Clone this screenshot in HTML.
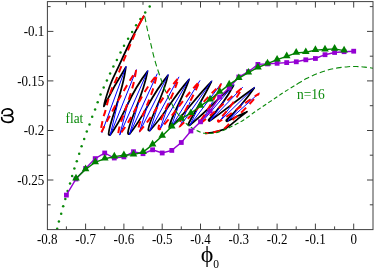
<!DOCTYPE html><html><head><meta charset="utf-8"><style>html,body{margin:0;padding:0;background:#fff}svg{display:block;will-change:transform}text{font-family:"Liberation Serif",serif}</style></head><body>
<svg width="374" height="269" viewBox="0 0 374 269">
<rect width="374" height="269" fill="#fff"/>
<circle cx="57.2" cy="228.8" r="1.25" fill="#0a8a0a"/>
<circle cx="58.9" cy="221.4" r="1.25" fill="#0a8a0a"/>
<circle cx="61.2" cy="213.7" r="1.25" fill="#0a8a0a"/>
<circle cx="63.2" cy="206.2" r="1.25" fill="#0a8a0a"/>
<circle cx="65.3" cy="198.9" r="1.25" fill="#0a8a0a"/>
<circle cx="67.6" cy="190.9" r="1.25" fill="#0a8a0a"/>
<circle cx="70.0" cy="183.5" r="1.25" fill="#0a8a0a"/>
<circle cx="72.1" cy="176.0" r="1.25" fill="#0a8a0a"/>
<circle cx="74.4" cy="168.5" r="1.25" fill="#0a8a0a"/>
<circle cx="76.8" cy="161.3" r="1.25" fill="#0a8a0a"/>
<circle cx="79.2" cy="153.7" r="1.25" fill="#0a8a0a"/>
<circle cx="81.6" cy="146.3" r="1.25" fill="#0a8a0a"/>
<circle cx="84.2" cy="139.0" r="1.25" fill="#0a8a0a"/>
<circle cx="86.8" cy="131.6" r="1.25" fill="#0a8a0a"/>
<circle cx="89.5" cy="124.4" r="1.25" fill="#0a8a0a"/>
<circle cx="92.2" cy="116.8" r="1.25" fill="#0a8a0a"/>
<circle cx="95.1" cy="109.6" r="1.25" fill="#0a8a0a"/>
<circle cx="97.7" cy="102.2" r="1.25" fill="#0a8a0a"/>
<circle cx="100.5" cy="94.5" r="1.25" fill="#0a8a0a"/>
<circle cx="103.7" cy="87.6" r="1.25" fill="#0a8a0a"/>
<circle cx="106.9" cy="80.5" r="1.25" fill="#0a8a0a"/>
<circle cx="110.1" cy="73.6" r="1.25" fill="#0a8a0a"/>
<circle cx="113.4" cy="66.5" r="1.25" fill="#0a8a0a"/>
<circle cx="116.9" cy="59.9" r="1.25" fill="#0a8a0a"/>
<circle cx="120.5" cy="52.6" r="1.25" fill="#0a8a0a"/>
<circle cx="124.0" cy="45.8" r="1.25" fill="#0a8a0a"/>
<circle cx="128.1" cy="38.8" r="1.25" fill="#0a8a0a"/>
<circle cx="132.1" cy="32.1" r="1.25" fill="#0a8a0a"/>
<circle cx="136.1" cy="25.3" r="1.25" fill="#0a8a0a"/>
<circle cx="140.4" cy="18.9" r="1.25" fill="#0a8a0a"/>
<circle cx="145.2" cy="12.5" r="1.25" fill="#0a8a0a"/>
<circle cx="149.7" cy="6.4" r="1.25" fill="#0a8a0a"/>
<path d="M144.00,15.60 C141.83,19.67 135.18,31.62 131.00,40.00 C126.82,48.38 122.23,58.73 118.90,65.90 C115.57,73.07 113.27,77.32 111.00,83.00 C108.73,88.68 106.48,96.10 105.30,100.00 C104.12,103.90 104.13,105.33 103.90,106.40 C110.44,93.10 117.91,79.74 125.80,67.20 C122.70,94.60 109.08,121.56 108.60,133.96 C108.56,134.94 109.81,135.38 110.40,134.60 C127.08,112.30 127.01,97.24 147.50,71.40 C143.17,96.95 128.51,121.50 127.90,133.15 C127.85,134.11 129.06,134.58 129.67,133.84 C145.93,114.15 148.77,98.40 167.90,75.40 C163.13,97.90 149.23,119.16 148.30,129.51 C148.22,130.45 149.37,130.97 150.02,130.29 C165.45,114.25 171.68,98.60 189.00,79.60 C182.92,97.93 171.69,115.32 169.29,126.48 C169.10,127.37 170.18,127.98 170.84,127.34 C185.47,113.35 195.21,97.98 211.40,81.60 C204.07,97.41 193.83,112.41 188.32,124.18 C187.94,125.00 188.93,125.78 189.64,125.21 C204.59,113.21 216.85,99.35 233.50,85.50 C226.71,98.12 217.94,110.20 208.83,119.66 C208.17,120.35 209.06,121.40 209.85,120.86 C224.61,110.77 237.48,99.34 254.20,88.00 C246.26,99.49 236.82,110.35 226.49,119.99 C225.86,120.58 226.54,121.59 227.32,121.23 C233.75,118.26 239.66,114.88 247.00,111.70 C245.73,112.68 241.92,115.57 239.40,117.60 C236.88,119.63 234.13,122.12 231.90,123.90 C229.67,125.68 227.98,127.17 226.00,128.30 C224.02,129.43 222.33,129.98 220.00,130.70 C217.67,131.42 214.50,132.18 212.00,132.60 C209.50,133.02 206.17,133.10 205.00,133.20" fill="none" stroke="#000" stroke-width="1.75" stroke-linejoin="round"/>
<path d="M101.80,132.90 L126.30,66.00 M118.38,100.45 L110.10,135.50 L136.50,69.50 M128.23,102.07 L119.70,135.10 L148.00,70.20 M138.69,102.18 L129.40,134.70 L157.30,73.60 M148.33,102.65 L139.40,132.10 L168.40,74.20 M159.00,102.38 L149.80,131.10 L179.00,76.80 M169.22,102.43 L159.84,129.61 L189.53,78.43 M179.95,101.80 L170.78,127.92 L200.06,80.36 M190.19,101.80 L180.02,126.63 L211.99,80.49 M201.49,100.91 L189.76,125.54 L221.42,83.32 M212.69,101.61 L200.70,123.54 L234.15,84.45 M224.32,100.96 L210.14,120.96 L242.78,87.08 M233.40,102.68 L219.36,121.61 L254.90,87.00 M243.75,102.10 L227.78,121.17 L259.41,92.81" fill="none" stroke="#00f" stroke-width="1.0" stroke-linejoin="miter" stroke-miterlimit="3"/>
<path d="M144.10,15.80 C143.02,17.77 139.68,23.30 137.60,27.60 C135.52,31.90 134.33,35.10 131.60,41.60 C128.87,48.10 123.82,60.18 121.20,66.60 C118.58,73.02 117.42,76.53 115.90,80.10 C114.38,83.67 113.22,85.23 112.10,88.00 C110.98,90.77 110.00,94.12 109.20,96.70 C108.40,99.28 107.87,101.40 107.30,103.50 C106.73,105.60 106.22,107.73 105.80,109.30 C105.38,110.87 105.22,111.57 104.80,112.90 C104.38,114.23 103.80,115.35 103.30,117.30 C102.80,119.25 102.18,122.65 101.80,124.60 C101.42,126.55 101.08,127.70 101.00,129.00 C100.92,130.30 101.25,131.83 101.30,132.40 C111.67,111.47 123.50,90.43 136.00,70.70 C132.49,96.62 118.83,121.90 118.30,133.66 C118.26,134.53 119.37,134.94 119.91,134.26 C136.08,113.68 137.28,98.71 156.80,74.80 C152.46,97.96 138.74,120.06 138.00,130.64 C137.94,131.49 138.99,131.94 139.56,131.31 C155.47,113.93 160.22,98.43 178.50,78.00 C172.78,98.30 160.04,117.42 158.44,128.20 C158.32,129.03 159.32,129.54 159.91,128.95 C174.87,114.21 182.83,98.88 199.50,81.50 C192.85,98.19 182.41,114.02 178.64,125.34 C178.37,126.12 179.32,126.74 179.93,126.20 C194.23,113.53 204.96,99.15 220.80,84.40 C214.89,98.42 206.72,111.95 199.40,122.33 C198.91,123.02 199.77,123.86 200.45,123.35 C214.57,112.72 226.33,100.35 242.10,88.10 C235.68,99.97 227.42,111.38 218.11,120.51 C217.53,121.08 218.25,122.02 218.96,121.60 C232.46,113.56 243.74,103.36 258.70,93.80 C257.25,95.42 253.22,100.07 250.00,103.50 C246.78,106.93 242.07,111.92 239.40,114.40 C236.73,116.88 235.82,116.72 234.00,118.40 C232.18,120.08 230.15,122.80 228.50,124.50 C226.85,126.20 225.63,127.53 224.10,128.60 C222.57,129.67 221.57,130.20 219.30,130.90 C217.03,131.60 212.88,132.38 210.50,132.80 C208.12,133.22 205.92,133.30 205.00,133.40" fill="none" stroke="#f00" stroke-width="2.0" stroke-dasharray="15 5 6.7 5 6.7 5 6.7 5 6.7 5 6.7 5 6.7 5 6.7 5 6.7 5 6.7 5 6.7 5 6.7 5 6.7 5 6.7 5 6.7 5 6.7 5 6.7 5 6.7 5 6.7 5 6.7 5 6.7 5 6.7 5 6.7 5 6.7 5 6.7 5 6.7 5 6.7 5 6.7 5 6.7 5 6.7 5 6.7 5 6.7 5 6.7 5 6.7 5 6.7 5 6.7 5 6.7 5 6.7 5 6.7 5 6.7 5 6.7 5 6.7 5 6.7 5 6.7 5 6.7 5 6.7 5 6.7 5 6.7 5 6.7 5 6.7 5 6.7 5 6.7 5 6.7 5 6.7 5 6.7 5 6.7 5 6.7 5 6.7 5 6.7 5 6.7 5 6.7 5 6.7 5 6.7 5 6.7 5 6.7 5 6.7 5 6.7 5 6.7 5 6.7 5 6.7 5 6.7 5 6.7 5 6.7 5 6.7 5 6.7 5 6.7 5 6.7 5 6.7 5 6.7 5 6.7 5 6.7 5 6.7 5 6.7 5 6.7 5 6.7 5 6.7 5 6.7 5 6.7 5 6.7 5 6.7 5 6.7 5 6.7 5 6.7 5 6.7 5 6.7 5 6.7 5 6.7 5 6.7 5 6.7 5 6.7 5 6.7 5 6.7 5 6.7 5 6.7 5 6.7 5 6.7 5 6.7 5 6.7 5 6.7 5 6.7 5 6.7 5 6.7 5 6.7 5 6.7 5 6.7 5 6.7 5 6.7 5 6.7 5 6.7 5 6.7 5 6.7 5 6.7 5 6.7 5 6.7 5 6.7 5 6.7 5 6.7 5 6.7 5 6.7 5 6.7 5 6.7 5 6.7 5 6.7 5 6.7 5 6.7 5 6.7 5 6.7 5 6.7 5 6.7 5 6.7 5 6.7 5 6.7 5 6.7 5 6.7 5 6.7 5 6.7 5 6.7 5 6.7 5 6.7 5 6.7 5 6.7 5" stroke-linejoin="round"/>
<path d="M144.80,16.50 C145.25,18.75 146.53,25.58 147.50,30.00 C148.47,34.42 149.35,37.85 150.60,43.00 C151.85,48.15 153.27,54.85 155.00,60.90 C156.73,66.95 159.18,74.10 161.00,79.30 C162.82,84.50 164.28,88.37 165.90,92.10 C167.52,95.83 168.85,98.25 170.70,101.70 C172.55,105.15 174.33,109.08 177.00,112.80" fill="none" stroke="#0a8a0a" stroke-width="1.1" stroke-dasharray="5.8 3.3"/>
<path d="M177.00,112.80 C179.67,116.52 183.70,121.18 186.70,124.00 C189.70,126.82 192.02,128.15 195.00,129.70 C197.98,131.25 201.77,132.72 204.60,133.30 C207.43,133.88 209.60,133.43 212.00,133.20 C214.40,132.97 216.50,132.63 219.00,131.90 C221.50,131.17 224.32,130.00 227.00,128.80 C229.68,127.60 232.32,126.17 235.10,124.70 C237.88,123.23 240.38,122.15 243.70,120.00 C247.02,117.85 251.45,114.30 255.00,111.80 C258.55,109.30 261.67,107.25 265.00,105.00 C268.33,102.75 271.67,100.55 275.00,98.30 C278.33,96.05 281.33,93.85 285.00,91.50 C288.67,89.15 293.43,86.35 297.00,84.20" fill="none" stroke="#0a8a0a" stroke-width="1.1" stroke-dasharray="4.2 2.5"/>
<path d="M297.00,84.20 C300.57,82.05 303.08,80.33 306.40,78.60 C309.72,76.87 313.42,75.20 316.90,73.80 C320.38,72.40 323.83,71.18 327.30,70.20 C330.77,69.22 334.23,68.48 337.70,67.90 C341.17,67.32 344.97,66.93 348.10,66.70 C351.23,66.47 353.72,66.43 356.50,66.50 C359.28,66.57 362.05,66.82 364.80,67.10 C367.55,67.38 371.63,68.02 373.00,68.20" fill="none" stroke="#0a8a0a" stroke-width="1.1" stroke-dasharray="5.5 3"/>
<polyline points="66.4,195.1 76.0,179.0 85.6,168.5 95.2,158.6 104.7,153.0 114.3,158.0 123.9,156.9 133.5,151.7 143.0,153.8 152.6,149.8 162.2,153.0 171.8,150.4 181.3,142.5 190.9,131.0 200.5,121.8 210.1,110.9 219.7,97.0 229.2,87.8 238.8,77.0 248.4,71.7 257.9,64.4 267.5,63.9 277.1,63.3 286.7,62.6 296.2,61.8 305.8,59.8 315.4,58.5 325.0,54.7 334.6,52.5 344.1,51.7 353.7,51.2" fill="none" stroke="#9400d3" stroke-width="1.4"/>
<rect x="64.0" y="192.7" width="4.8" height="4.8" fill="#9400d3"/>
<rect x="73.6" y="176.6" width="4.8" height="4.8" fill="#9400d3"/>
<rect x="83.2" y="166.1" width="4.8" height="4.8" fill="#9400d3"/>
<rect x="92.8" y="156.2" width="4.8" height="4.8" fill="#9400d3"/>
<rect x="102.3" y="150.6" width="4.8" height="4.8" fill="#9400d3"/>
<rect x="111.9" y="155.6" width="4.8" height="4.8" fill="#9400d3"/>
<rect x="121.5" y="154.5" width="4.8" height="4.8" fill="#9400d3"/>
<rect x="131.1" y="149.3" width="4.8" height="4.8" fill="#9400d3"/>
<rect x="140.6" y="151.3" width="4.8" height="4.8" fill="#9400d3"/>
<rect x="150.2" y="147.4" width="4.8" height="4.8" fill="#9400d3"/>
<rect x="159.8" y="150.6" width="4.8" height="4.8" fill="#9400d3"/>
<rect x="169.4" y="148.0" width="4.8" height="4.8" fill="#9400d3"/>
<rect x="178.9" y="140.1" width="4.8" height="4.8" fill="#9400d3"/>
<rect x="188.5" y="128.6" width="4.8" height="4.8" fill="#9400d3"/>
<rect x="198.1" y="119.4" width="4.8" height="4.8" fill="#9400d3"/>
<rect x="207.7" y="108.5" width="4.8" height="4.8" fill="#9400d3"/>
<rect x="217.2" y="94.6" width="4.8" height="4.8" fill="#9400d3"/>
<rect x="226.8" y="85.4" width="4.8" height="4.8" fill="#9400d3"/>
<rect x="236.4" y="74.6" width="4.8" height="4.8" fill="#9400d3"/>
<rect x="246.0" y="69.3" width="4.8" height="4.8" fill="#9400d3"/>
<rect x="255.5" y="62.0" width="4.8" height="4.8" fill="#9400d3"/>
<rect x="265.1" y="61.5" width="4.8" height="4.8" fill="#9400d3"/>
<rect x="274.7" y="60.9" width="4.8" height="4.8" fill="#9400d3"/>
<rect x="284.3" y="60.2" width="4.8" height="4.8" fill="#9400d3"/>
<rect x="293.9" y="59.4" width="4.8" height="4.8" fill="#9400d3"/>
<rect x="303.4" y="57.4" width="4.8" height="4.8" fill="#9400d3"/>
<rect x="313.0" y="56.1" width="4.8" height="4.8" fill="#9400d3"/>
<rect x="322.6" y="52.3" width="4.8" height="4.8" fill="#9400d3"/>
<rect x="332.2" y="50.1" width="4.8" height="4.8" fill="#9400d3"/>
<rect x="341.7" y="49.3" width="4.8" height="4.8" fill="#9400d3"/>
<rect x="351.3" y="48.8" width="4.8" height="4.8" fill="#9400d3"/>
<polyline points="76.0,178.5 85.6,169.4 95.2,162.3 104.8,158.7 114.3,156.6 123.9,155.3 133.5,154.6 143.1,152.0 152.6,144.6 162.2,135.9 171.8,126.5 181.3,118.6 190.9,113.2 200.5,105.8 210.1,99.6 219.7,91.9 229.2,84.6 238.8,78.2 248.4,72.7 257.9,67.5 267.5,63.6 277.1,59.7 286.7,56.3 296.2,52.9 305.8,52.2 315.4,50.1 325.0,49.5 334.6,48.9 344.1,50.6" fill="none" stroke="#008000" stroke-width="1.4"/>
<polygon points="76.0,173.7 72.2,180.4 79.8,180.4" fill="#008000"/>
<polygon points="85.6,164.6 81.8,171.3 89.4,171.3" fill="#008000"/>
<polygon points="95.2,157.5 91.4,164.2 99.0,164.2" fill="#008000"/>
<polygon points="104.8,153.9 101.0,160.6 108.6,160.6" fill="#008000"/>
<polygon points="114.3,151.8 110.5,158.5 118.1,158.5" fill="#008000"/>
<polygon points="123.9,150.6 120.1,157.2 127.7,157.2" fill="#008000"/>
<polygon points="133.5,149.8 129.7,156.5 137.3,156.5" fill="#008000"/>
<polygon points="143.1,147.2 139.2,153.9 146.9,153.9" fill="#008000"/>
<polygon points="152.6,139.8 148.8,146.5 156.4,146.5" fill="#008000"/>
<polygon points="162.2,131.1 158.4,137.8 166.0,137.8" fill="#008000"/>
<polygon points="171.8,121.7 168.0,128.4 175.6,128.4" fill="#008000"/>
<polygon points="181.3,113.8 177.5,120.5 185.2,120.5" fill="#008000"/>
<polygon points="190.9,108.4 187.1,115.1 194.7,115.1" fill="#008000"/>
<polygon points="200.5,101.0 196.7,107.7 204.3,107.7" fill="#008000"/>
<polygon points="210.1,94.8 206.3,101.5 213.9,101.5" fill="#008000"/>
<polygon points="219.7,87.1 215.8,93.8 223.5,93.8" fill="#008000"/>
<polygon points="229.2,79.8 225.4,86.5 233.0,86.5" fill="#008000"/>
<polygon points="238.8,73.4 235.0,80.1 242.6,80.1" fill="#008000"/>
<polygon points="248.4,67.9 244.6,74.6 252.2,74.6" fill="#008000"/>
<polygon points="257.9,62.7 254.1,69.4 261.8,69.4" fill="#008000"/>
<polygon points="267.5,58.8 263.7,65.5 271.3,65.5" fill="#008000"/>
<polygon points="277.1,54.9 273.3,61.6 280.9,61.6" fill="#008000"/>
<polygon points="286.7,51.5 282.9,58.2 290.5,58.2" fill="#008000"/>
<polygon points="296.2,48.1 292.4,54.8 300.1,54.8" fill="#008000"/>
<polygon points="305.8,47.4 302.0,54.1 309.6,54.1" fill="#008000"/>
<polygon points="315.4,45.3 311.6,52.0 319.2,52.0" fill="#008000"/>
<polygon points="325.0,44.7 321.2,51.4 328.8,51.4" fill="#008000"/>
<polygon points="334.6,44.1 330.8,50.8 338.4,50.8" fill="#008000"/>
<polygon points="344.1,45.8 340.3,52.5 347.9,52.5" fill="#008000"/>
<rect x="47.4" y="1.6" width="325.6" height="228.0" fill="none" stroke="#404040" stroke-width="1"/>
<path d="M85.6,229.6v-6 M85.6,1.6v6 M123.9,229.6v-6 M123.9,1.6v6 M162.2,229.6v-6 M162.2,1.6v6 M200.5,229.6v-6 M200.5,1.6v6 M238.8,229.6v-6 M238.8,1.6v6 M277.1,229.6v-6 M277.1,1.6v6 M315.4,229.6v-6 M315.4,1.6v6 M353.7,229.6v-6 M353.7,1.6v6 M66.4,229.6v-3.2 M66.4,1.6v3.2 M104.7,229.6v-3.2 M104.7,1.6v3.2 M143.0,229.6v-3.2 M143.0,1.6v3.2 M181.3,229.6v-3.2 M181.3,1.6v3.2 M219.7,229.6v-3.2 M219.7,1.6v3.2 M257.9,229.6v-3.2 M257.9,1.6v3.2 M296.2,229.6v-3.2 M296.2,1.6v3.2 M334.6,229.6v-3.2 M334.6,1.6v3.2 M47.4,31.4h6 M373.0,31.4h-6 M47.4,80.9h6 M373.0,80.9h-6 M47.4,130.5h6 M373.0,130.5h-6 M47.4,180.0h6 M373.0,180.0h-6 M47.4,6.6h3.2 M373.0,6.6h-3.2 M47.4,56.2h3.2 M373.0,56.2h-3.2 M47.4,105.7h3.2 M373.0,105.7h-3.2 M47.4,155.2h3.2 M373.0,155.2h-3.2 M47.4,204.8h3.2 M373.0,204.8h-3.2" fill="none" stroke="#404040" stroke-width="1"/>
<text transform="translate(47.3,243.6) scale(1,1.15)" font-size="13" text-anchor="middle" fill="#000">-0.8</text>
<text transform="translate(85.6,243.6) scale(1,1.15)" font-size="13" text-anchor="middle" fill="#000">-0.7</text>
<text transform="translate(123.9,243.6) scale(1,1.15)" font-size="13" text-anchor="middle" fill="#000">-0.6</text>
<text transform="translate(162.2,243.6) scale(1,1.15)" font-size="13" text-anchor="middle" fill="#000">-0.5</text>
<text transform="translate(200.5,243.6) scale(1,1.15)" font-size="13" text-anchor="middle" fill="#000">-0.4</text>
<text transform="translate(238.8,243.6) scale(1,1.15)" font-size="13" text-anchor="middle" fill="#000">-0.3</text>
<text transform="translate(277.1,243.6) scale(1,1.15)" font-size="13" text-anchor="middle" fill="#000">-0.2</text>
<text transform="translate(315.4,243.6) scale(1,1.15)" font-size="13" text-anchor="middle" fill="#000">-0.1</text>
<text transform="translate(353.7,243.6) scale(1,1.15)" font-size="13" text-anchor="middle" fill="#000">0</text>
<text transform="translate(44.3,36.3) scale(1,1.15)" font-size="13" text-anchor="end" fill="#000">-0.1</text>
<text transform="translate(44.3,85.8) scale(1,1.15)" font-size="13" text-anchor="end" fill="#000">-0.15</text>
<text transform="translate(44.3,135.4) scale(1,1.15)" font-size="13" text-anchor="end" fill="#000">-0.2</text>
<text transform="translate(44.3,184.9) scale(1,1.15)" font-size="13" text-anchor="end" fill="#000">-0.25</text>
<text transform="translate(65.6,123) scale(1,1.12)" font-size="13.3" fill="#0a8a0a">flat</text>
<text transform="translate(297,99) scale(1,1.12)" font-size="13.5" fill="#0a8a0a">n=16</text>
<g transform="translate(0.3,105) scale(0.0744)" fill="none" stroke="#000" stroke-linecap="round" stroke-linejoin="round"><path d="M24,112 C22,92 38,62 80,54 C130,46 168,70 165,103 C163,128 140,140 105,140 C150,142 175,165 172,190 C168,220 130,235 90,232 C45,228 18,205 19,170" stroke-width="23"/><path d="M50,140 L108,140" stroke-width="20"/></g>
<text x="207" y="262" font-size="24" text-anchor="middle" fill="#000">ϕ</text>
<text x="213.3" y="268.2" font-size="11.5" fill="#000">0</text>
</svg></body></html>
